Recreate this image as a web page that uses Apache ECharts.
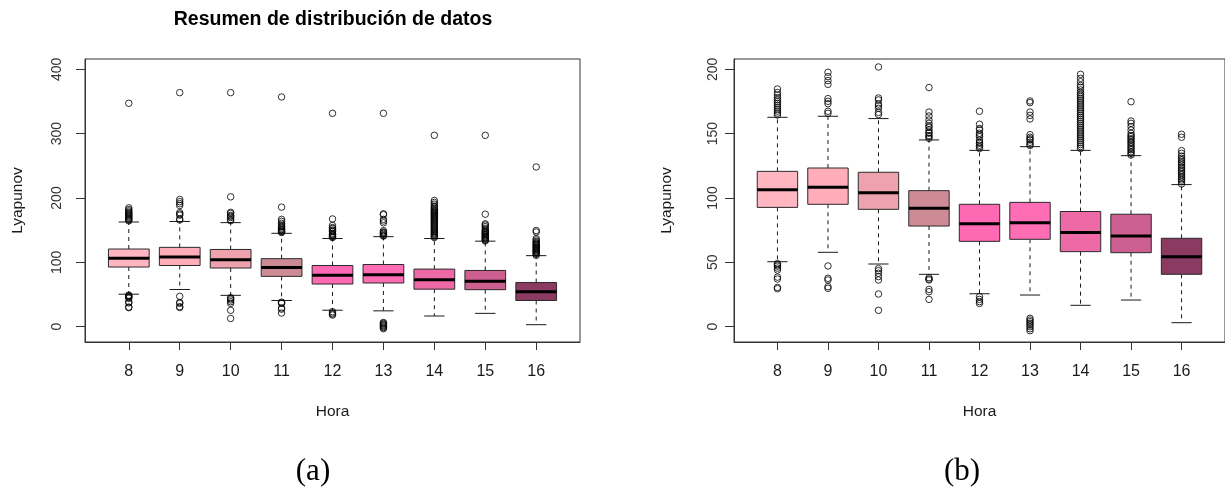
<!DOCTYPE html>
<html>
<head>
<meta charset="utf-8">
<script src="https://cdn.jsdelivr.net/npm/echarts@6/dist/echarts.min.js"></script>
<style>
  html, body { margin: 0; padding: 0; background: #ffffff; }
  #chart { width: 1225px; height: 490px; }
</style>
</head>
<body>
<div id="chart"></div>
<script>
// Hour of day (categories)
const hours = [8, 9, 10, 11, 12, 13, 14, 15, 16];

// Five-number summaries per hour
const whiskerLow  = [50.5, 57.8, 48.7, 40.7, 25.6, 24.6, 16.6, 20.7, 3.1];
const quartile1   = [92.7, 95.1, 91.2, 78.2, 66.3, 67.9, 58.3, 57.5, 40.7];
const medians     = [106.5, 108.3, 104.1, 92.0, 80.0, 80.8, 73.1, 70.5, 54.4];
const quartile3   = [120.7, 123.3, 120.0, 105.7, 95.1, 96.6, 89.5, 87.4, 68.7];
const whiskerHigh = [162.7, 163.5, 161.7, 145.1, 137.0, 139.9, 137.0, 132.9, 110.4];

// Outlying observations per hour
const outliers8  = [347.2, 184.7, 182, 180, 178, 176.5, 175, 173.5, 172, 170.5, 169, 167.5, 166, 164.5,
                    49, 48, 47, 45.5, 44, 38.5, 37, 30.5, 29.5];
const outliers9  = [363.7, 197.7, 194.3, 191.2, 188.3, 177.2, 175.1, 173.3, 167.4, 165.8,
                    47.2, 37.6, 36.3, 31.1, 29.8];
const outliers10 = [363.7, 201.8, 177.7, 176.2, 173, 171.5, 169.7, 166.5, 164.8,
                    45.1, 43.5, 41.5, 38.9, 36.3, 25.4, 12.7];
const outliers11 = [357, 185.8, 166.8, 163.7, 160.6, 158, 156, 154.9, 152.8, 151, 150.3, 148.5, 147.7, 146.3,
                    38.1, 37, 36.3, 29, 27.2, 21.2];
const outliers12 = [331.6, 167.4, 157.3, 154, 152.8, 150.3, 149, 147.7, 145.1, 143.5, 142.5, 141, 139.9, 138.5,
                    23.3, 21.2, 19.5, 18.1];
const outliers13 = [331.6, 175.4, 174.1, 166.8, 164.2, 161.4, 149.2, 147.2, 146, 145.1, 143.3, 141.7, 140.8,
                    6.5, 5.2, 3.9, 2.6, 1.3, 0, -1.6, -3.1];
const outliers14 = [297.4, 196.1, 193, 190.4, 187.5, 186, 184, 182, 180.5, 179, 177.5, 176, 174.5, 173, 171.5,
                    170, 168.5, 167, 165.5, 164, 162.5, 161, 159.5, 158, 156.5, 155, 153.5, 152, 150.5,
                    149, 147.5, 146, 144.5, 143, 141.5, 140, 138.5];
const outliers15 = [297.4, 174.8, 159.8, 158, 155.5, 152.8, 150.2, 148.5, 147.6, 146, 145, 143.5, 142.5,
                    141, 139.9, 138.5, 137.5, 136, 134.7, 133.4];
const outliers16 = [248.2, 149.5, 147.2, 136.8, 134.7, 132.5, 130.8, 129.5, 128.2, 127, 125.6, 124, 123.1,
                    121.5, 120.5, 119, 117.9, 116.5, 115.3, 114, 112.7, 110.9];
const outliersByHour = [outliers8, outliers9, outliers10, outliers11, outliers12,
                        outliers13, outliers14, outliers15, outliers16];

// Axis ticks for the full view (a) and the zoomed view (b)
const yTicksFull = [0, 100, 200, 300, 400];
const yTicksZoom = [0, 50, 100, 150, 200];

// Fill colour of each hour's box
const boxColors = ['#FFB6C1', '#FFAEB9', '#EEA2AD', '#CD8C95', '#FF69B4',
                   '#FF6EB4', '#EE6AA7', '#CD6090', '#8B3A62'];

const boxData = hours.map((h, i) =>
  [h, whiskerLow[i], quartile1[i], medians[i], quartile3[i], whiskerHigh[i]]);
const outlierData = [];
hours.forEach((h, i) => outliersByHour[i].forEach(v => outlierData.push([h, v])));

const FONT = '"Liberation Sans", Arial, sans-serif';
const INK = '#1a1a1a';
const FRAME = '#333';

function renderBox(params, api) {
  const x = api.value(0);
  const pLo = api.coord([x, api.value(1)]);
  const pQ1 = api.coord([x, api.value(2)]);
  const pMd = api.coord([x, api.value(3)]);
  const pQ3 = api.coord([x, api.value(4)]);
  const pHi = api.coord([x, api.value(5)]);
  const w = api.size([0.8, 0])[0];
  const cx = pMd[0];
  const dash = { stroke: INK, lineWidth: 1, lineDash: [4, 4] };
  const solid = { stroke: INK, lineWidth: 1 };
  return {
    type: 'group',
    children: [
      { type: 'line', shape: { x1: cx, y1: pQ3[1], x2: cx, y2: pHi[1] }, style: dash },
      { type: 'line', shape: { x1: cx, y1: pQ1[1], x2: cx, y2: pLo[1] }, style: dash },
      { type: 'line', shape: { x1: cx - w / 4, y1: pHi[1], x2: cx + w / 4, y2: pHi[1] }, style: solid },
      { type: 'line', shape: { x1: cx - w / 4, y1: pLo[1], x2: cx + w / 4, y2: pLo[1] }, style: solid },
      { type: 'rect', shape: { x: cx - w / 2, y: pQ3[1], width: w, height: pQ1[1] - pQ3[1] },
        style: { fill: boxColors[params.dataIndex], stroke: '#2a2a2a', lineWidth: 1 } },
      { type: 'line', shape: { x1: cx - w / 2, y1: pMd[1], x2: cx + w / 2, y2: pMd[1] },
        style: { stroke: '#000', lineWidth: 3 } }
    ]
  };
}

function xAxisFor(gridIndex) {
  return {
    gridIndex: gridIndex,
    type: 'value',
    position: 'bottom',
    min: hours[0] - 0.86,
    max: hours[hours.length - 1] + 0.86,
    axisLine: { show: true, onZero: false, lineStyle: { color: FRAME, width: 1 } },
    splitLine: { show: false },
    axisTick: { show: true, length: 8, customValues: hours, lineStyle: { color: FRAME } },
    axisLabel: { customValues: hours, margin: 22, fontSize: 16, color: INK, fontFamily: FONT },
    name: 'Hora',
    nameLocation: 'middle',
    nameGap: 62,
    nameTextStyle: { fontSize: 15.5, color: INK, fontFamily: FONT }
  };
}

function yAxisFor(gridIndex, min, max, ticks, labelMargin) {
  return {
    gridIndex: gridIndex,
    type: 'value',
    position: 'left',
    min: min,
    max: max,
    axisLine: { show: true, onZero: false, lineStyle: { color: FRAME, width: 1 } },
    splitLine: { show: false },
    axisTick: { show: true, length: 9, customValues: ticks, lineStyle: { color: FRAME } },
    axisLabel: { customValues: ticks, rotate: 90, margin: labelMargin, fontSize: 14,
                 color: '#333', fontFamily: FONT },
    name: 'Lyapunov',
    nameLocation: 'middle',
    nameRotate: 90,
    nameGap: 59,
    nameTextStyle: { fontSize: 15.5, color: INK, fontFamily: FONT }
  };
}

const gridStyle = { show: true, borderColor: FRAME, borderWidth: 1, backgroundColor: 'transparent' };

const chart = echarts.init(document.getElementById('chart'), null, { renderer: 'canvas' });
chart.setOption({
  backgroundColor: '#ffffff',
  animation: false,
  graphic: [
    { type: 'text', x: 333, y: 20,
      style: { text: 'Resumen de distribución de datos', fill: '#000', align: 'center',
               verticalAlign: 'middle', font: 'bold 19.5px ' + FONT } },
    { type: 'text', x: 313, y: 472,
      style: { text: '(a)', fill: '#000', align: 'center', verticalAlign: 'middle',
               font: '31px "Liberation Serif", "DejaVu Serif", serif' } },
    { type: 'text', x: 962, y: 472,
      style: { text: '(b)', fill: '#000', align: 'center', verticalAlign: 'middle',
               font: '31px "Liberation Serif", "DejaVu Serif", serif' } }
  ],
  grid: [
    Object.assign({ left: 85, top: 59, width: 495, height: 283 }, gridStyle),
    Object.assign({ left: 734, top: 59, width: 495, height: 283 }, gridStyle)
  ],
  xAxis: [xAxisFor(0), xAxisFor(1)],
  yAxis: [
    yAxisFor(0, -23.8, 416, yTicksFull, 21),
    yAxisFor(1, -11.9, 208, yTicksZoom, 14)
  ],
  series: [
    { type: 'custom', xAxisIndex: 0, yAxisIndex: 0, data: boxData, renderItem: renderBox,
      encode: { x: 0, y: [1, 2, 3, 4, 5] }, clip: true, z: 2 },
    { type: 'custom', xAxisIndex: 1, yAxisIndex: 1, data: boxData, renderItem: renderBox,
      encode: { x: 0, y: [1, 2, 3, 4, 5] }, clip: true, z: 2 },
    { type: 'scatter', xAxisIndex: 0, yAxisIndex: 0, data: outlierData, symbol: 'circle', symbolSize: 6.5,
      itemStyle: { color: 'transparent', borderColor: '#000', borderWidth: 1 }, clip: true, z: 3 },
    { type: 'scatter', xAxisIndex: 1, yAxisIndex: 1, data: outlierData, symbol: 'circle', symbolSize: 6.5,
      itemStyle: { color: 'transparent', borderColor: '#000', borderWidth: 1 }, clip: true, z: 3 }
  ]
});
</script>
</body>
</html>
